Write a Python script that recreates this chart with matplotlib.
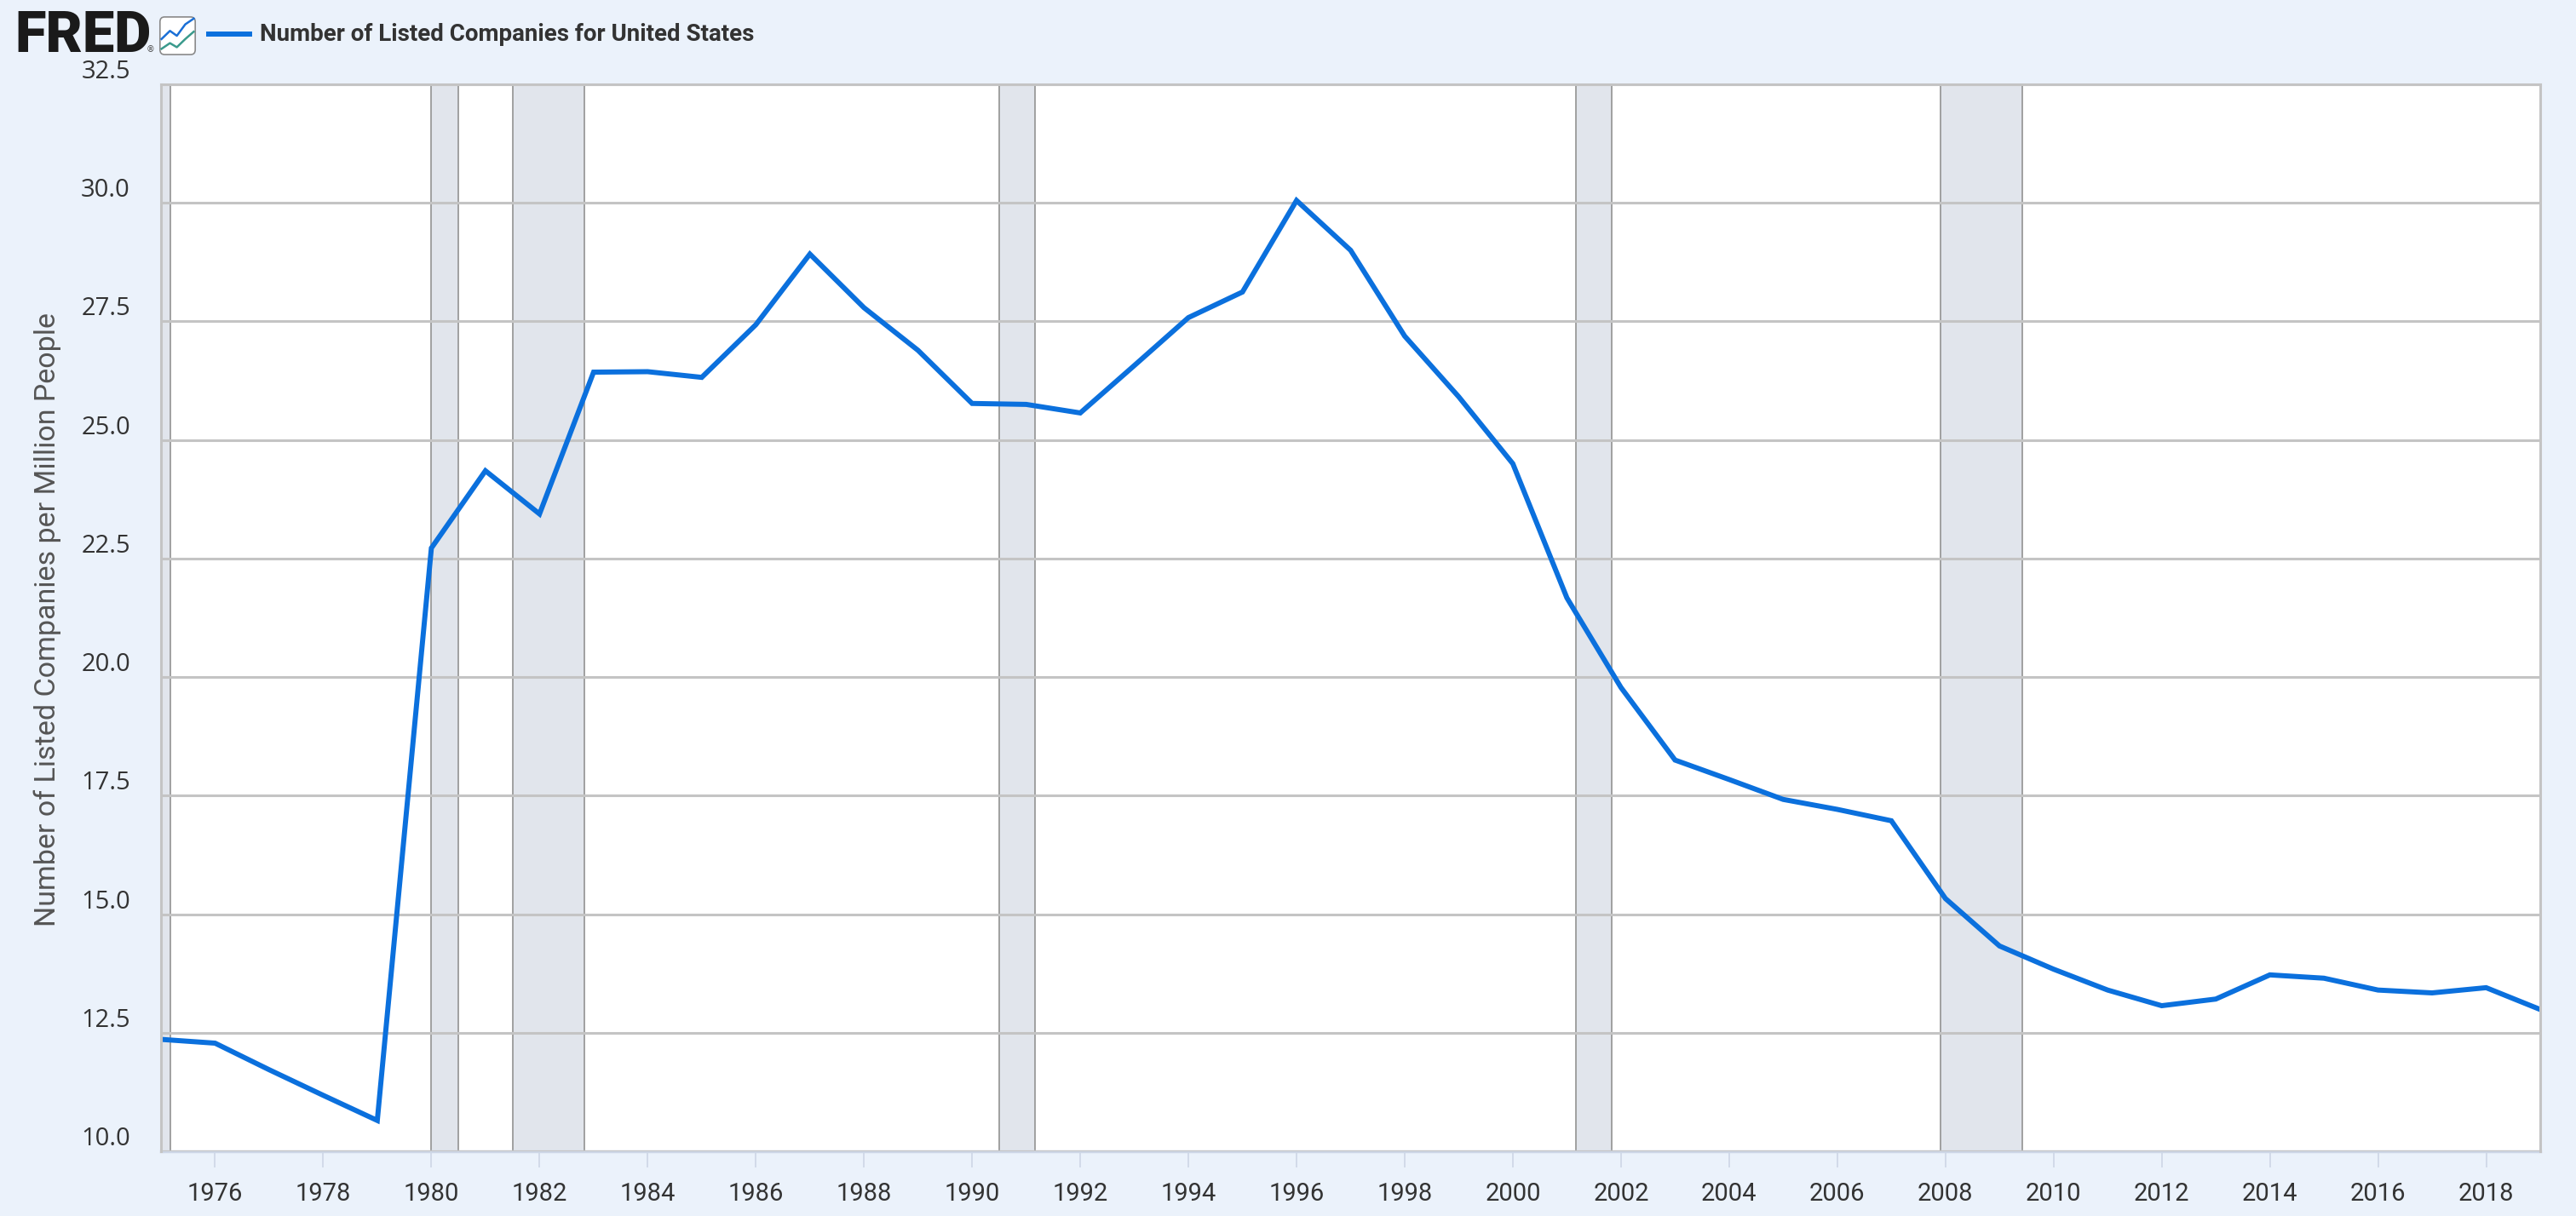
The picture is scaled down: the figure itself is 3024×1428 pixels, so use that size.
import matplotlib
matplotlib.use("Agg")
import matplotlib.pyplot as plt
from matplotlib.lines import Line2D
from matplotlib.patches import FancyBboxPatch

# ---------------- data ----------------
years = list(range(1975, 2020))
values = [12.36, 12.28, 11.72, 11.18, 10.65, 22.72, 24.35, 23.44, 26.43, 26.44,
          26.32, 27.43, 28.92, 27.79, 26.89, 25.77, 25.75, 25.57, 26.57, 27.58,
          28.12, 30.05, 29.00, 27.19, 25.91, 24.50, 21.67, 19.78, 18.25, 17.84,
          17.42, 17.21, 16.97, 15.33, 14.33, 13.84, 13.40, 13.07, 13.21, 13.72,
          13.65, 13.40, 13.34, 13.45, 12.99]

# NBER recessions (peak month, trough month) as (year, month)
recession_starts = [(1973, 11), (1980, 1), (1981, 7), (1990, 7), (2001, 3), (2007, 12)]
recession_ends = [(1975, 3), (1980, 7), (1982, 11), (1991, 3), (2001, 11), (2009, 6)]

xtick_years = list(range(1976, 2019, 2))
yticks = [10.0, 12.5, 15.0, 17.5, 20.0, 22.5, 25.0, 27.5, 30.0, 32.5]

title = "Number of Listed Companies for United States"
ylabel = "Number of Listed Companies per Million People"

# ---------------- style ----------------
BG = "#ebf2fb"
LINE = "#0b70dd"
GRID = "#c4c4c4"
TXT = "#333333"

W, H = 3024, 1428
fig = plt.figure(figsize=(W / 100, H / 100), dpi=100, facecolor=BG)

left, right, top, bottom = 189, 2982, 99, 1352
ax = fig.add_axes([left / W, 1 - bottom / H, (right - left) / W, (bottom - top) / H])
ax.set_facecolor("white")

def dec(ym):
    return ym[0] + (ym[1] - 1) / 12.0

for s, e in zip(recession_starts, recession_ends):
    ax.axvspan(dec(s), dec(e), facecolor="#e1e5ec", edgecolor="#9a9a9a",
               linewidth=1.3, zorder=1)

ax.plot(years, values, color=LINE, linewidth=4.3, zorder=3,
        solid_joinstyle="miter", solid_capstyle="butt")

ax.set_xlim(1975, 2019)
ax.set_ylim(10, 32.5)
ax.set_yticks(yticks)
ax.set_yticklabels([f"{v:.1f}" for v in yticks])
ax.set_xticks(xtick_years)
ax.set_xticklabels([str(y) for y in xtick_years])

ax.grid(axis="y", color=GRID, linewidth=2.2, zorder=2)
ax.grid(axis="x", visible=False)
ax.set_axisbelow(False)
for g in ax.get_ygridlines():
    g.set_zorder(2)

for sp in ["left", "right", "top"]:
    ax.spines[sp].set_color(GRID)
    ax.spines[sp].set_linewidth(2.2)
    ax.spines[sp].set_zorder(4)
ax.spines["bottom"].set_color("#cdd6e6")
ax.spines["bottom"].set_linewidth(2.5)

ax.tick_params(axis="y", length=0, pad=26, labelsize=21, labelcolor=TXT)
ax.tick_params(axis="x", length=14, width=1.2, color="#cdd6e6", pad=12,
               labelsize=21, labelcolor=TXT)
for lab in ax.get_yticklabels():
    lab.set_fontfamily(["Open Sans", "DejaVu Sans"])
    lab.set_va("bottom")
for lab in ax.get_xticklabels():
    lab.set_fontfamily(["Roboto", "DejaVu Sans"])

fig.text(56 / W, 1 - 727 / H, ylabel, rotation=90, ha="center", va="center",
         fontsize=24.5, color="#555555", family=["Roboto", "DejaVu Sans"],
         fontweight="normal")

# ---------------- header: logo + legend ----------------
fig.text(17 / W, 1 - 43 / H, "FRED", fontsize=48, fontweight="black",
         family=["Roboto", "DejaVu Sans"], color="#1a1a1a", ha="left", va="center")
fig.text(172 / W, 1 - 58 / H, "®", fontsize=7, color="#444444", ha="left", va="center",
         family=["DejaVu Sans"])

icon = fig.add_axes([186 / W, 1 - 66 / H, 45 / W, 48 / H])
icon.set_xlim(0, 1)
icon.set_ylim(0, 1)
icon.axis("off")
icon.add_patch(FancyBboxPatch((0.04, 0.04), 0.92, 0.92,
                              boxstyle="round,pad=0,rounding_size=0.12",
                              facecolor="white", edgecolor="#8a8a8a", linewidth=1.2,
                              transform=icon.transAxes))
icon.plot([0.08, 0.3, 0.48, 0.7, 0.92], [0.42, 0.62, 0.5, 0.78, 0.92],
          color="#1a6fd6", linewidth=1.8)
icon.plot([0.08, 0.3, 0.48, 0.7, 0.92], [0.18, 0.32, 0.22, 0.42, 0.6],
          color="#3a9a8c", linewidth=1.8)

fig.add_artist(Line2D([245 / W, 293 / W], [1 - 40 / H, 1 - 40 / H],
                      color=LINE, linewidth=4.3, transform=fig.transFigure))
fig.text(305 / W, 1 - 40 / H, title, fontsize=20, fontweight="bold",
         family=["Roboto", "DejaVu Sans"], color=TXT, ha="left", va="center")

fig.savefig("out.png", dpi=100, facecolor=BG)
